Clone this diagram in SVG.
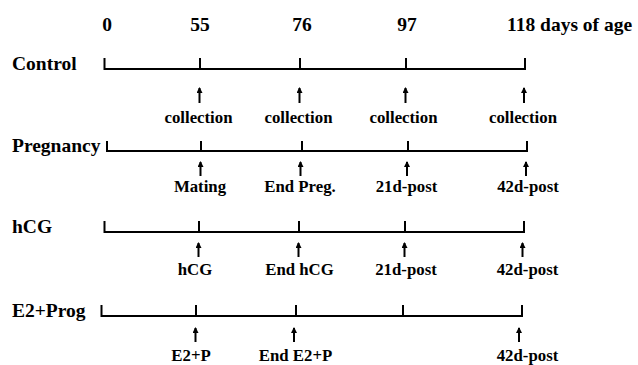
<svg xmlns="http://www.w3.org/2000/svg" width="638" height="365" viewBox="0 0 638 365">
<defs>
<style>
text{font-family:'Liberation Serif','Times New Roman',Times,serif;font-weight:700;fill:#000}
.h{font-size:19.5px}
.g{font-size:19.5px}
.l{font-size:16.8px;text-anchor:middle}
.ax{stroke:#000;stroke-width:2;fill:none}
.ar{stroke:#000;stroke-width:2;fill:none}
</style>
<marker id="ah" viewBox="0 0 6 6" refX="5" refY="3" markerWidth="6" markerHeight="6" markerUnits="userSpaceOnUse" orient="auto">
<path d="M0,0 L6,3 L0,6 Z" fill="#000"/>
</marker>
</defs>
<g id="header">
<text class="h" x="107" y="31" text-anchor="middle">0</text>
<text class="h" x="200" y="31" text-anchor="middle">55</text>
<text class="h" x="302" y="31" text-anchor="middle">76</text>
<text class="h" x="407" y="31" text-anchor="middle">97</text>
<text class="h" x="507" y="31">118 days of age</text>
</g>
<g id="control">
<text class="g" x="12" y="70">Control</text>
<path class="ax" d="M104.5,58 V69 H525 V58 M200,69 V58 M300,69 V58 M406,69 V58"/>
<text class="l" x="198.5" y="123">collection</text>
<text class="l" x="298.5" y="123">collection</text>
<text class="l" x="403.5" y="123">collection</text>
<text class="l" x="523" y="123">collection</text>
</g>
<g id="pregnancy">
<text class="g" x="12" y="152">Pregnancy</text>
<path class="ax" d="M107,141 V151 H527 V141 M201,151 V141 M302,151 V141 M408,151 V141"/>
<text class="l" x="200" y="192">Mating</text>
<text class="l" x="300" y="192">End Preg.</text>
<text class="l" x="406.5" y="192">21d-post</text>
<text class="l" x="528" y="192">42d-post</text>
</g>
<g id="hcg">
<text class="g" x="12" y="233">hCG</text>
<path class="ax" d="M104.5,221 V232 H524 V221 M199,232 V221 M299,232 V221 M405,232 V221"/>
<text class="l" x="195" y="275">hCG</text>
<text class="l" x="299.5" y="275">End hCG</text>
<text class="l" x="406" y="275">21d-post</text>
<text class="l" x="527.5" y="275">42d-post</text>
</g>
<g id="e2prog">
<text class="g" x="12" y="317">E2+Prog</text>
<path class="ax" d="M101.5,305 V316 H522 V305 M196,316 V305 M296,316 V305 M403,316 V305"/>
<text class="l" x="191" y="361">E2+P</text>
<text class="l" x="295.5" y="361">End E2+P</text>
<text class="l" x="527.5" y="361">42d-post</text>
</g>
<g id="connectors">
<line class="ar" x1="199.5" y1="103" x2="199.5" y2="88" marker-end="url(#ah)"/>
<line class="ar" x1="299.5" y1="103" x2="299.5" y2="88" marker-end="url(#ah)"/>
<line class="ar" x1="405.5" y1="103" x2="405.5" y2="88" marker-end="url(#ah)"/>
<line class="ar" x1="524" y1="103" x2="524" y2="88" marker-end="url(#ah)"/>
<line class="ar" x1="200.5" y1="176" x2="200.5" y2="162" marker-end="url(#ah)"/>
<line class="ar" x1="300.5" y1="176" x2="300.5" y2="162" marker-end="url(#ah)"/>
<line class="ar" x1="407" y1="176" x2="407" y2="162" marker-end="url(#ah)"/>
<line class="ar" x1="526" y1="176" x2="526" y2="162" marker-end="url(#ah)"/>
<line class="ar" x1="198.5" y1="257" x2="198.5" y2="243" marker-end="url(#ah)"/>
<line class="ar" x1="298.5" y1="257" x2="298.5" y2="243" marker-end="url(#ah)"/>
<line class="ar" x1="404.5" y1="257" x2="404.5" y2="243" marker-end="url(#ah)"/>
<line class="ar" x1="522.5" y1="257" x2="522.5" y2="243" marker-end="url(#ah)"/>
<line class="ar" x1="195.5" y1="342" x2="195.5" y2="328" marker-end="url(#ah)"/>
<line class="ar" x1="294" y1="342" x2="294" y2="328" marker-end="url(#ah)"/>
<line class="ar" x1="519" y1="342" x2="519" y2="328" marker-end="url(#ah)"/>
</g>
</svg>
